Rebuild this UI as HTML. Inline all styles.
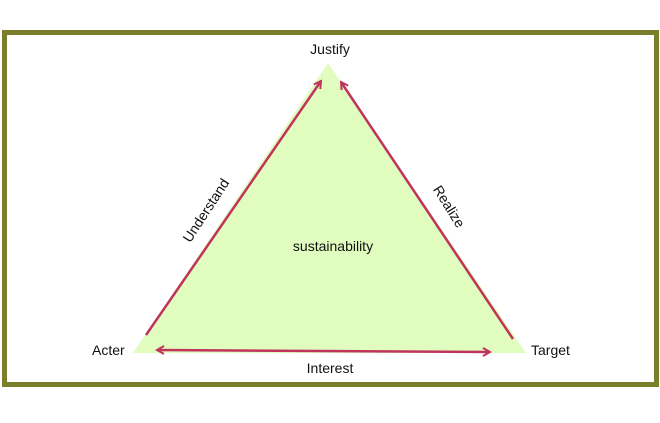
<!DOCTYPE html>
<html><head><style>
body{margin:0;background:#fff;}
svg{display:block;}
text{font-family:"Liberation Sans",sans-serif;font-size:14px;fill:#111;}
</style></head><body>
<svg width="660" height="423" viewBox="0 0 660 423">
<rect x="4.5" y="32.5" width="652" height="352" fill="#fff" stroke="#7b7f2b" stroke-width="5"/>
<polygon points="328,63 133,353 526,353" fill="#e0fcbf"/>
<defs>
<marker id="a" markerWidth="10" markerHeight="10" refX="8" refY="5" orient="auto" markerUnits="userSpaceOnUse"><path d="M1,1 L8,5 L1,9" fill="none" stroke="#c0345c" stroke-width="2"/></marker>
<marker id="b" markerWidth="10" markerHeight="10" refX="2" refY="5" orient="auto" markerUnits="userSpaceOnUse"><path d="M9,1 L2,5 L9,9" fill="none" stroke="#c0345c" stroke-width="2"/></marker>
</defs>
<g stroke="#c0345c" stroke-width="2.5" fill="none">
<line x1="146" y1="335" x2="321" y2="81" marker-end="url(#a)"/>
<line x1="513" y1="339" x2="341" y2="82" marker-end="url(#a)"/>
<line x1="157" y1="350" x2="490" y2="352" marker-end="url(#a)" marker-start="url(#b)"/>
</g>
<text x="330" y="54" text-anchor="middle">Justify</text>
<text x="92" y="355">Acter</text>
<text x="531" y="355">Target</text>
<text x="330" y="373" text-anchor="middle">Interest</text>
<text x="333" y="251" text-anchor="middle">sustainability</text>
<text transform="translate(210,213) rotate(-57)" text-anchor="middle">Understand</text>
<text transform="translate(445,209) rotate(58)" text-anchor="middle">Realize</text>
</svg>
</body></html>
